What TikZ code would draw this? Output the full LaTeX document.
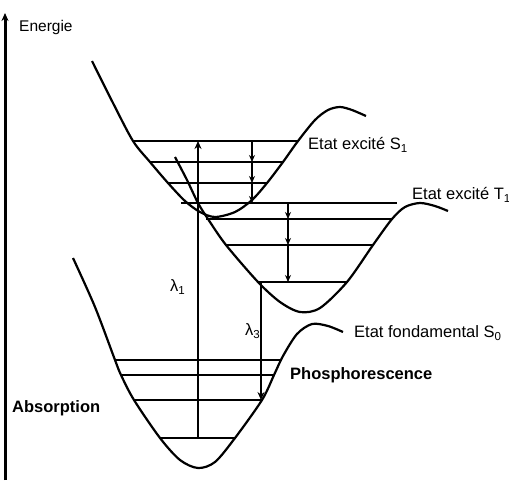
\documentclass[tikz,border=0pt]{standalone}
\usepackage{fontspec}
\setmainfont{Liberation Sans}
\usetikzlibrary{arrows.meta}
\begin{document}
\begin{tikzpicture}[x=1pt,y=-1pt,>={Stealth[length=8pt,width=7pt]},
  courbe/.style={line width=2.2pt},
  niveau/.style={line width=1.1pt},
  relax/.style={-{Stealth[length=7pt,width=6pt]},line width=1.1pt},
  etiq/.style={font=\fontsize{16.5}{19}\selectfont,anchor=west,inner sep=0pt}]
\useasboundingbox (0,0) rectangle (509,483);
\draw[->,line width=3pt] (5,480) -- (5,13);
\node[etiq,font=\fontsize{15.5}{18}\selectfont] (energie) at (19,27) {Energie};
\draw[courbe] plot[smooth] coordinates {(92,61) (113,103) (133,141) (150,162) (168,183) (185,201) (200,212) (215,217) (235,212) (252,200) (267,183) (283,162) (298,141) (315,120) (328,110) (340,107) (352,110) (366,116)};
\draw[courbe] plot[smooth] coordinates {(175,157) (187,180) (198,203) (208,219) (226,245) (258,282) (280,302) (300,312) (320,308) (347,282) (373,245) (392,219) (405,207) (420,203) (435,206) (448,211)};
\draw[courbe] plot[smooth] coordinates {(73,258) (95,307) (115,360) (121,375) (134,400) (160,438) (180,460) (198,468) (215,462) (235,438) (262,400) (274,375) (283,356) (297,334) (312,324) (328,326) (343,332)};
\foreach \y/\a/\b in {141/133/298,162/150/283,183/168/267}
  \draw[niveau] (\a,\y) -- (\b,\y);
\foreach \y/\a/\b in {203/181/397,219/206/392,245/226/373,282/258/347}
  \draw[niveau] (\a,\y) -- (\b,\y);
\foreach \y/\a/\b in {360/115/282,375/121/274,400/134/262,438/160/235}
  \draw[niveau] (\a,\y) -- (\b,\y);
\coordinate (s1a) at (252,141);
\coordinate (s1b) at (252,162);
\coordinate (s1c) at (252,183);
\coordinate (s1d) at (252,203);
\draw[relax] (s1a) -- (s1b);
\draw[relax] (s1b) -- (s1c);
\draw[relax] (s1c) -- (s1d);
\coordinate (t1a) at (288,203);
\coordinate (t1b) at (288,219);
\coordinate (t1c) at (288,245);
\coordinate (t1d) at (288,282);
\draw[relax] (t1a) -- (t1b);
\draw[relax] (t1b) -- (t1c);
\draw[relax] (t1c) -- (t1d);
\coordinate (abs0) at (198,438);
\coordinate (abs1) at (198,141);
\draw[->,line width=1.8pt] (abs0) -- (abs1);
\coordinate (pho0) at (261,282);
\coordinate (pho1) at (261,400);
\draw[->,line width=2.5pt] (pho0) -- (pho1);
\node[etiq] (lambda1) at (170,287) {λ\textsubscript{1}};
\node[etiq] (lambda3) at (245,331) {λ\textsubscript{3}};
\node[etiq] (etatS1) at (308,145) {Etat excité S\textsubscript{1}};
\node[etiq] (etatT1) at (412,195) {Etat excité T\textsubscript{1}};
\node[etiq] (etatS0) at (354,333) {Etat fondamental S\textsubscript{0}};
\node[etiq,font=\fontsize{16.5}{19}\selectfont\bfseries] (phospho) at (290,375) {Phosphorescence};
\node[etiq,font=\fontsize{16.5}{19}\selectfont\bfseries] (absorp) at (12,408) {Absorption};
\end{tikzpicture}
\end{document}
